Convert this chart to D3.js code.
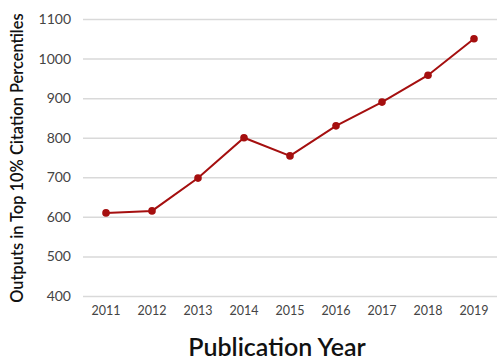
<!DOCTYPE html>
<html><head><meta charset="utf-8">
<script src="https://cdn.jsdelivr.net/npm/d3@7"></script>
<style>body{margin:0;background:#fff}svg{display:block}</style>
</head><body>
<svg id="c" width="500" height="363"></svg>
<script>
const years = ["2011","2012","2013","2014","2015","2016","2017","2018","2019"];
const values = [610, 615, 698, 800, 754, 830, 890, 958, 1050];
const yTicks = [400, 500, 600, 700, 800, 900, 1000, 1100];

const svg = d3.select("#c");
const m = {l: 83, r: 3, t: 19, b: 67};
const W = 500, H = 363;
const x = d3.scaleBand().domain(years).range([m.l, W - m.r]);
const y = d3.scaleLinear().domain([400, 1100]).range([H - m.b, m.t]);
const font = "Lato, 'Open Sans', sans-serif";

const gy = svg.append("g").attr("transform", `translate(${m.l},0)`)
  .call(d3.axisLeft(y).tickValues(yTicks).tickSize(-(W - m.l - m.r)).tickPadding(12).tickFormat(d3.format("d")));
gy.select(".domain").remove();
gy.selectAll(".tick line").attr("stroke", "#d9d9d9").attr("stroke-width", 1.5);
gy.selectAll(".tick text").attr("font-family", font).attr("font-size", 14).attr("fill", "#444");

const gx = svg.append("g").attr("transform", `translate(0,${H - m.b})`)
  .call(d3.axisBottom(x).tickSize(0).tickPadding(10));
gx.select(".domain").remove();
gx.selectAll(".tick text").attr("font-family", font).attr("font-size", 12.5).attr("fill", "#444");

const line = d3.line().x((d, i) => x(years[i]) + x.bandwidth() / 2).y(d => y(d));
svg.append("path").datum(values).attr("d", line).attr("fill", "none")
  .attr("stroke", "#a50f0f").attr("stroke-width", 2);
svg.selectAll("circle.pt").data(values).join("circle").attr("class", "pt")
  .attr("cx", (d, i) => x(years[i]) + x.bandwidth() / 2).attr("cy", d => y(d))
  .attr("r", 3.8).attr("fill", "#a50f0f");

svg.append("text").attr("x", 277).attr("y", 356).attr("text-anchor", "middle")
  .attr("font-family", font).attr("font-size", 25).attr("font-weight", 600).attr("fill", "#111")
  .text("Publication Year");
svg.append("text").attr("transform", "translate(23,158) rotate(-90)").attr("text-anchor", "middle")
  .attr("font-family", font).attr("font-size", 16.4).attr("font-weight", 600).attr("fill", "#111")
  .text("Outputs in Top 10% Citation Percentiles");
</script>
</body></html>
